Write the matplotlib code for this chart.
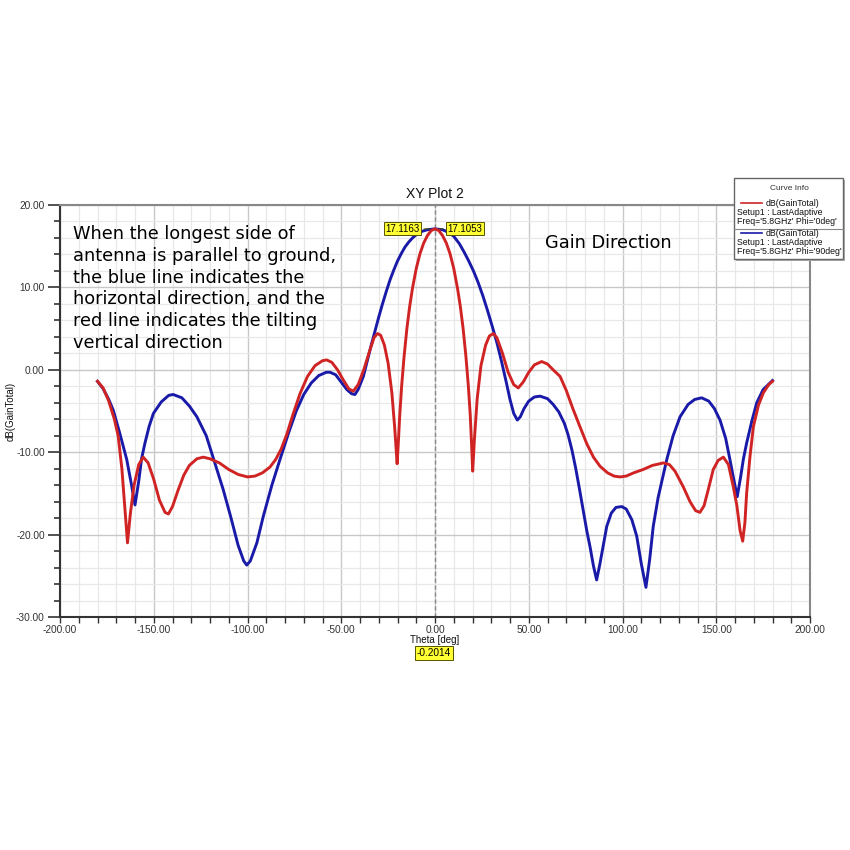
import matplotlib
matplotlib.use("Agg")
import matplotlib.pyplot as plt
from matplotlib.patches import Rectangle
from matplotlib.ticker import MultipleLocator, FormatStrFormatter

# ---- data ----
red_theta = [-180, -177, -174, -171, -169, -167, -165.5, -164, -162.5, -160.5, -158, -155.6,
             -153, -150, -147, -144, -142.2, -140, -137, -134, -131, -127, -123.6, -120, -115,
             -110, -105, -100, -96, -92, -88, -85, -82, -79, -76, -72, -68, -64, -60, -57.8, -55,
             -52, -49, -46, -43.6, -41, -38, -35, -32.5, -30.7, -29, -27, -25, -23, -21.5,
             -20.2, -19.6, -18.8, -17.8, -16.5, -15, -13.5, -12, -10, -8, -6, -4, -2, 0,
             2, 4, 6, 8, 10, 12, 13.5, 15, 16.5, 17.8, 18.8, 19.5, 20.1, 21, 22.5, 24.5, 27, 29,
             31.1, 33, 36, 39, 42, 44.4, 47, 50, 53, 56.9, 60, 63, 66.7, 70, 73.5, 77.3, 81,
             84.5, 88, 92, 95.5, 98.7, 102, 106, 111, 116, 121.8, 125, 128, 132.4, 136, 139,
             141.3, 143.5, 146, 148.4, 151, 153.8, 156.5, 159.1, 161, 162.7, 164.1, 165.3,
             166.2, 168, 169.8, 172.5, 175.1, 178, 180]
red_db = [-1.4, -2.2, -3.8, -6.0, -8.0, -12.0, -16.5, -21.0, -17.5, -14.0, -11.5, -10.6,
          -11.3, -13.3, -15.8, -17.3, -17.5, -16.6, -14.6, -12.8, -11.6, -10.8, -10.6, -10.8,
          -11.3, -12.1, -12.7, -13.0, -12.9, -12.5, -11.8, -10.9, -9.6, -7.8, -5.6, -2.9,
          -0.8, 0.5, 1.1, 1.2, 0.9, 0.0, -1.2, -2.3, -2.6, -1.8, 0.0, 2.2, 3.9, 4.4, 4.2,
          3.0, 0.8, -2.8, -7.0, -11.4, -9.0, -5.5, -2.0, 1.6, 5.0, 7.7, 9.9, 12.3, 14.1,
          15.4, 16.3, 16.9, 17.1,
          16.9, 16.3, 15.4, 14.1, 12.3, 9.9, 7.7, 5.0, 1.6, -2.0, -5.5, -9.0, -12.3, -8.5,
          -3.5, 0.5, 3.0, 4.1, 4.4, 3.9, 2.0, -0.3, -1.8, -2.2, -1.5, -0.3, 0.6, 1.0, 0.7,
          0.0, -0.8, -2.5, -4.7, -6.9, -9.0, -10.6, -11.7, -12.5, -12.9, -13.0, -12.9,
          -12.5, -12.1, -11.6, -11.3, -11.5, -12.3, -14.2, -16.0, -17.1, -17.3, -16.5,
          -14.3, -12.1, -11.0, -10.6, -11.5, -14.2, -16.5, -19.5, -20.8, -18.5, -15.0,
          -10.5, -6.9, -4.3, -2.8, -1.8, -1.4]

blue_theta = [-180, -177, -174, -171.6, -168, -164.4, -162, -160, -158, -156.5, -154.7, -152.5,
              -150.2, -146, -142, -139.6, -135, -131, -127, -122, -118, -113, -109, -105, -102,
              -100.4, -98.5, -95, -91.6, -87, -82.7, -78, -74, -70, -66, -62, -58, -56, -53,
              -50, -47, -44.5, -42.7, -41, -38.2, -36, -34, -32, -30, -28, -26, -24, -22, -20,
              -18, -16, -14, -12, -10, -7, -4, 0, 4, 7, 10, 13, 15.5, 18, 20.5, 23, 25.5, 28,
              30.5, 33, 35.5, 38, 40, 42, 43.9, 45.5, 47.5, 50, 53, 56, 60, 63, 66, 69, 71, 73,
              75, 77, 79, 81, 82.7, 84.5, 86.2, 88, 90, 91.6, 94, 96.5, 99.6, 102, 105, 107.6,
              110, 112.5, 114.5, 116.4, 119, 121.5, 123.6, 127, 130.7, 135, 138.5, 142.2, 146,
              149, 152, 155, 157.3, 159.5, 161.2, 163, 164.5, 166.2, 169, 171.6, 175, 180]
blue_db = [-1.4, -2.3, -3.6, -4.9, -7.8, -10.9, -13.8, -16.4, -13.5, -10.8, -8.9, -6.9, -5.3,
           -3.9, -3.1, -3.0, -3.4, -4.4, -5.7, -8.0, -10.9, -14.5, -17.8, -21.3, -23.2, -23.7,
           -23.2, -21.0, -17.8, -14.0, -10.9, -7.6, -5.0, -3.0, -1.6, -0.7, -0.3, -0.3, -0.6,
           -1.5, -2.4, -2.9, -3.0, -2.4, -0.8, 1.2, 3.0, 4.7, 6.4, 8.0, 9.5, 10.9, 12.1, 13.2,
           14.1, 14.9, 15.5, 16.0, 16.4, 16.8, 17.0, 17.1, 17.0, 16.7, 16.2, 15.3, 14.3, 13.2,
           12.0, 10.6, 9.0, 7.2, 5.3, 3.3, 1.0, -1.5, -3.6, -5.3, -6.1, -5.7, -4.7, -3.8,
           -3.3, -3.2, -3.5, -4.2, -5.1, -6.5, -7.9, -9.7, -11.9, -14.4, -17.0, -19.6, -21.5,
           -23.8, -25.5, -23.5, -21.0, -19.0, -17.4, -16.7, -16.6, -16.9, -18.2, -20.2, -23.5,
           -26.4, -23.0, -19.0, -15.5, -13.0, -10.9, -8.0, -5.7, -4.2, -3.6, -3.4, -3.8, -4.7,
           -6.1, -8.3, -10.9, -13.5, -15.4, -13.0, -10.8, -8.9, -6.2, -4.0, -2.4, -1.3]

marker_theta = -0.2014
marker_labels = ["17.1163", "17.1053"]
legend_lines = [["dB(GainTotal)", "Setup1 : LastAdaptive", "Freq='5.8GHz' Phi='0deg'"],
                ["dB(GainTotal)", "Setup1 : LastAdaptive", "Freq='5.8GHz' Phi='90deg'"]]
note = ("When the longest side of\nantenna is parallel to ground,\nthe blue line indicates the\n"
        "horizontal direction, and the\nred line indicates the tilting\nvertical direction")

RED = "#d02424"
BLUE = "#1a1aa8"

plt.rcParams['font.family'] = ['Liberation Sans', 'DejaVu Sans']
fig = plt.figure(figsize=(8.5, 8.5), dpi=100)
W = H = 850.0

def fx(px):
    return px / W

def fy(py):
    return 1 - py / H

ax = fig.add_axes([fx(60), fy(617), fx(810) - fx(60), fy(205) - fy(617)])
ax.set_xlim(-200, 200)
ax.set_ylim(-30, 20)
ax.xaxis.set_major_locator(MultipleLocator(50))
ax.xaxis.set_minor_locator(MultipleLocator(10))
ax.yaxis.set_major_locator(MultipleLocator(10))
ax.yaxis.set_minor_locator(MultipleLocator(2))
ax.xaxis.set_major_formatter(FormatStrFormatter('%.2f'))
ax.yaxis.set_major_formatter(FormatStrFormatter('%.2f'))
ax.grid(which='minor', color='#e8e8e8', lw=0.9)
ax.grid(which='major', color='#c8c8c8', lw=1.0)
ax.set_axisbelow(True)
ax.tick_params(which='both', labelsize=7.3, colors='#333333', direction='out')
ax.tick_params(axis='y', which='major', length=9, width=1.2, pad=2)
ax.tick_params(axis='y', which='minor', length=4.5, width=1.2)
ax.tick_params(axis='x', which='major', length=4, width=1.0, pad=2)
ax.tick_params(axis='x', which='minor', length=4, width=1.0)
for s in ['left', 'bottom']:
    ax.spines[s].set_color('#333333')
    ax.spines[s].set_linewidth(1.5)
for s in ['top', 'right']:
    ax.spines[s].set_color('#888888')
    ax.spines[s].set_linewidth(1.5)

ax.axvline(marker_theta, color='#888888', lw=1.0, ls=(0, (3, 2)))
ax.plot(blue_theta, blue_db, color=BLUE, lw=2.1, solid_joinstyle='round')
ax.plot(red_theta, red_db, color=RED, lw=2.1, solid_joinstyle='round')

ax.set_title("XY Plot 2", fontsize=10, color='#111111', pad=5)
fig.text(fx(435), fy(640), "Theta [deg]", fontsize=7, color='#111111', ha='center', va='center')
fig.text(fx(11), fy(411), "dB(GainTotal)", fontsize=7, color='#111111', ha='center', va='center',
         rotation=90)

# marker callouts
bbox = dict(boxstyle='square,pad=0.15', fc='#ffff33', ec='#555500', lw=0.7)
ax.annotate(marker_labels[0], xy=(-1.5, 17.1), xytext=(-17.5, 17.1), fontsize=7,
            ha='center', va='center', bbox=bbox,
            arrowprops=dict(arrowstyle='-', color='#555500', lw=0.7))
ax.annotate(marker_labels[1], xy=(1.0, 17.1), xytext=(16, 17.1), fontsize=7,
            ha='center', va='center', bbox=bbox,
            arrowprops=dict(arrowstyle='-', color='#555500', lw=0.7))
fig.text(fx(434), fy(653), "%.4f" % marker_theta, fontsize=7.3, ha='center', va='center',
         bbox=dict(boxstyle='square,pad=0.15', fc='#ffff33', ec='#555500', lw=0.7))

# notes
fig.text(fx(73), fy(225), note, fontsize=12.8, family='DejaVu Sans', ha='left', va='top',
         linespacing=1.27, color='#000000')
fig.text(fx(545), fy(243), "Gain Direction", fontsize=12.8, family='DejaVu Sans',
         ha='left', va='center', color='#000000')

# legend box
lx0, lx1, ly0, ly1 = 734, 843, 178, 259
fig.patches.append(Rectangle((fx(lx0) + 0.002, fy(ly1) - 0.002), fx(lx1) - fx(lx0), fy(ly0) - fy(ly1),
                             transform=fig.transFigure, fc='#b0b0b0', ec='none', zorder=5))
fig.patches.append(Rectangle((fx(lx0), fy(ly1)), fx(lx1) - fx(lx0), fy(ly0) - fy(ly1),
                             transform=fig.transFigure, fc='white', ec='#666666', lw=1.0, zorder=6))
fig.lines.append(plt.Line2D([fx(lx0), fx(lx1)], [fy(229), fy(229)], transform=fig.transFigure,
                            color='#888888', lw=0.8, zorder=7))
fig.text(fx(789), fy(188), "Curve Info", fontsize=6, ha='center', va='center', color='#333333', zorder=8)
for i, (col, lines) in enumerate(zip([RED, BLUE], legend_lines)):
    y0 = 203 + i * 30
    fig.lines.append(plt.Line2D([fx(741), fx(762)], [fy(y0), fy(y0)], transform=fig.transFigure,
                                color=col, lw=1.2, zorder=8))
    fig.text(fx(766), fy(y0), lines[0], fontsize=6.3, ha='left', va='center', color='#111111', zorder=8)
    fig.text(fx(737), fy(y0 + 9.5), lines[1], fontsize=6.3, ha='left', va='center', color='#111111', zorder=8)
    fig.text(fx(737), fy(y0 + 18.5), lines[2], fontsize=6.3, ha='left', va='center', color='#111111', zorder=8)

fig.savefig("out.png", dpi=100, facecolor='white')
